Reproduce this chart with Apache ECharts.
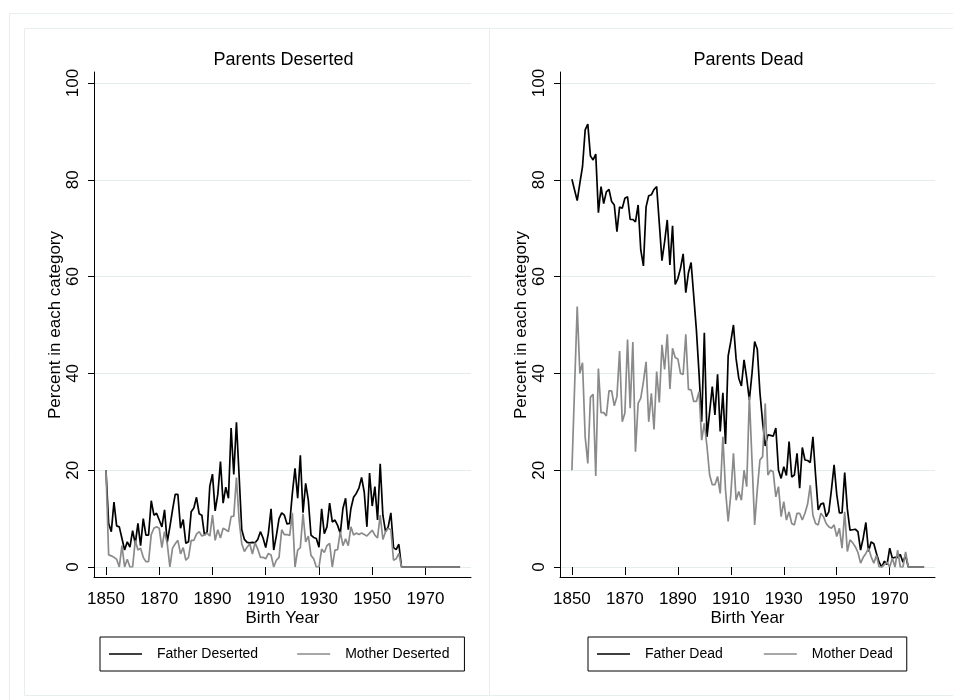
<!DOCTYPE html>
<html><head><meta charset="utf-8">
<script src="https://cdn.jsdelivr.net/npm/echarts@6/dist/echarts.min.js"></script>
<style>html,body{margin:0;padding:0;background:#fff}#c{width:953px;height:700px}</style>
</head><body><div id="c"></div>
<script>
const years = [
1850,1851,1852,1853,1854,1855,1856,1857,1858,1859,
1860,1861,1862,1863,1864,1865,1866,1867,1868,1869,
1870,1871,1872,1873,1874,1875,1876,1877,1878,1879,
1880,1881,1882,1883,1884,1885,1886,1887,1888,1889,
1890,1891,1892,1893,1894,1895,1896,1897,1898,1899,
1900,1901,1902,1903,1904,1905,1906,1907,1908,1909,
1910,1911,1912,1913,1914,1915,1916,1917,1918,1919,
1920,1921,1922,1923,1924,1925,1926,1927,1928,1929,
1930,1931,1932,1933,1934,1935,1936,1937,1938,1939,
1940,1941,1942,1943,1944,1945,1946,1947,1948,1949,
1950,1951,1952,1953,1954,1955,1956,1957,1958,1959,
1960,1961,1962,1963,1964,1965,1966,1967,1968,1969,
1970,1971,1972,1973,1974,1975,1976,1977,1978,1979,
1980,1981,1982,1983];

const fatherDeserted = [
20,9,7.3,13.4,8.5,8.3,5.9,3.5,5.2,4.1,
7.5,4.8,9.0,4.4,10.0,6.6,6.6,13.7,10.7,11.1,
9.7,8.3,11.8,5.1,8.3,11.8,15.0,15.0,8.0,9.8,
4.9,5.2,11.4,12.2,14.4,11.0,10.7,6.6,7.3,16.7,
19.2,11.6,15.0,21.8,13.2,16.5,14.2,28.7,19.1,29.9,
18.9,7.7,5.7,5.1,5.0,5.1,5.0,5.7,7.3,6.0,
4.0,7.0,12.0,3.5,6.5,10.0,11.2,10.7,8.9,9.0,
15.2,20.4,14.2,23.1,11.2,17.3,13.8,6.6,6.1,5.9,
4.1,12.0,6.9,8.3,13.2,9.3,9.7,8.6,6.9,12.1,
14.2,7.7,12.1,14.4,15.2,16.3,18.5,15.5,8.3,19.4,
12.6,16.6,9.7,21.3,10.7,7.3,8.3,11.2,4.0,3.6,
4.7,0,0,0,0,0,0,0,0,0,
0,0,0,0,0,0,0,0,0,0,
0,0,0,0];

const motherDeserted = [
20,2.5,2.3,2.0,1.6,0,4.4,0,1.6,0,
0,5.5,3.5,3.9,2.0,1.1,1.1,6.7,8.0,8.3,
8.0,4.0,7.3,4.9,0,3.9,4.8,5.5,2.7,4.0,
1.4,2.0,5.5,5.5,6.8,7.3,6.4,6.6,7.0,6.4,
10.7,5.5,7.7,6.0,8.0,7.7,7.3,10.4,10.5,18.5,
9.7,4.8,3.2,4.1,4.8,2.7,5.0,3.7,2.0,2.0,
1.7,2.8,2.5,0,1.4,2.0,7.7,6.7,6.7,6.5,
11.2,0,3.5,4.0,11.0,5.2,6.4,2.4,1.7,0,
0,3.7,3.0,4.4,4.9,0,3.5,3.6,7.3,4.4,
5.8,4.4,8.3,6.6,7.0,6.7,7.0,6.7,6.4,7.0,
7.6,6.6,6.0,10.7,5.7,7.3,8.0,7.7,1.4,1.7,
2.8,0,0,0,0,0,0,0,0,0,
0,0,0,0,0,0,0,0,0,0,
0,0,0,0];

const fatherDead = [
80.1,77.9,75.7,79.3,82.7,90.3,91.5,84.9,84.1,85.3,
73.2,78.6,75.1,77.5,78.0,75.5,74.8,69.3,74.4,74.1,
76.2,76.5,71.8,71.8,71.3,74.8,65.5,62.2,74.4,76.7,
76.9,78.0,78.6,71.0,63.3,67.2,71.7,62.4,70.5,58.4,
59.6,61.7,64.7,56.7,60.8,62.9,56,49,40,30,
48.4,26.9,32,37.3,31.4,39.8,28,36,25.4,43.6,
46.6,50,43,39,37.4,42.8,39,34.5,40,46.6,
45,36,30,25,27.3,27.2,27,28.7,20,18.3,
20.7,18.9,25.9,18.6,19,23.5,16.3,24.7,22.1,22,
21.6,26.9,19,11.8,13,13.2,10.4,11.4,16,21.1,
15,11.2,11.2,19.5,12,7.6,7.7,7.8,7.3,3.5,
6,9.2,3.2,5.2,4.8,2.8,1,0,1.2,0.5,
3.9,1.8,2,2,2.6,1,2.4,0,0,0,
0,0,0,0];

const motherDead = [
20,37,53.8,40,42.2,26.9,21.4,35.1,35.7,18.8,
41,31.9,31.9,31.2,36.4,36.4,33.3,35.2,44.6,30,
31.8,47,32.8,46.5,23.8,33.8,34.9,38.3,42.4,30,
35.9,28.4,40.4,34,45.9,40.8,48.1,36.8,45.2,43.3,
43,40,39.8,48.1,36.7,36.6,34.2,34.2,36.2,26.2,
29.7,24.9,19,17,17,18.7,15.2,26.9,15.9,9.4,
15,23.5,13.8,15.6,13.8,20,16.6,35.2,22,8.7,
16,22.1,22.8,33.8,19,20,19.7,14.5,16.6,10.4,
13.5,9.7,11.4,9,8.7,11.1,11.1,9.7,11.1,13,
16.9,10.7,9,8.7,11.1,10.4,9,8.3,8,8.7,
6.3,8,3.9,11.4,3.2,5.6,5,4.2,3,0.8,
2,2.8,3.9,2.1,0.8,2.4,0,0,0.5,1,
0,1.8,0,3.5,0,0,3.1,0,0,0,
0,0,0,0];

const xTicks = [1850,1870,1890,1910,1930,1950,1970];
const panelTitles = ['Parents Deserted', 'Parents Dead'];
const seriesNames = [['Father Deserted','Mother Deserted'], ['Father Dead','Mother Dead']];
const panelData = [[fatherDeserted, motherDeserted], [fatherDead, motherDead]];
const yTitle = 'Percent in each category';
const xTitle = 'Birth Year';

const FONT = '"Liberation Sans", Arial, Helvetica, sans-serif';
const lineColors = ['#000000', '#8a8a8a'];
const gridColor = '#e3eded';
const frameColor = '#e6eeef';
const panels = [
  {left: 94, width: 377, titleX: 278.5, legendLeft: 100, legendPad: [10, 15, 10, 9], legendGap: 39},
  {left: 560, width: 375, titleX: 743.5, legendLeft: 588, legendPad: [10, 14, 10, 9], legendGap: 41}
];

const grid = [], xAxis = [], yAxis = [], series = [], legend = [], title = [];
panels.forEach((p, i) => {
  const ga = grid.length;
  grid.push({left: p.left, width: p.width, top: 83, height: 484});
  grid.push({left: p.left, width: p.width, top: 72, height: 505});
  xAxis.push({
    type: 'value', gridIndex: ga, min: 1845.5, max: 1987.1, offset: 10,
    axisLine: {show: false},
    axisTick: {show: true, customValues: xTicks, length: 8, lineStyle: {color: '#000', width: 1}},
    axisLabel: {customValues: xTicks, formatter: v => String(v), color: '#000', fontSize: 17, fontFamily: FONT, margin: 14},
    splitLine: {show: false},
    name: xTitle, nameLocation: 'middle', nameGap: 33, nameMoveOverlap: false,
    nameTextStyle: {color: '#000', fontSize: 17, fontFamily: FONT}
  });
  xAxis.push({
    type: 'value', gridIndex: ga + 1, min: 0, max: 1,
    axisLine: {show: true, lineStyle: {color: '#000', width: 1}},
    axisTick: {show: false}, axisLabel: {show: false}, splitLine: {show: false}
  });
  yAxis.push({
    type: 'value', gridIndex: ga, min: 0, max: 100, interval: 20,
    axisLine: {show: false},
    axisTick: {show: true, length: 6, lineStyle: {color: '#000', width: 1}},
    axisLabel: {rotate: 90, color: '#000', fontSize: 17, fontFamily: FONT, margin: 12},
    splitLine: {show: true, lineStyle: {color: gridColor, width: 1}},
    name: yTitle, nameLocation: 'middle', nameGap: 30, nameMoveOverlap: false,
    nameTextStyle: {color: '#000', fontSize: 17, fontFamily: FONT}
  });
  yAxis.push({
    type: 'value', gridIndex: ga + 1, min: 0, max: 1,
    axisLine: {show: true, lineStyle: {color: '#000', width: 1}},
    axisTick: {show: false}, axisLabel: {show: false}, splitLine: {show: false}
  });
  seriesNames[i].forEach((nm, k) => {
    const vals = panelData[i][k];
    series.push({
      type: 'line', name: nm, xAxisIndex: ga, yAxisIndex: ga,
      data: years.map((y, j) => [y, vals[j]]),
      symbol: 'none', showSymbol: false,
      lineStyle: {color: lineColors[k], width: 1.7},
      itemStyle: {color: lineColors[k]},
      z: 3 + k
    });
  });
  legend.push({
    data: seriesNames[i].map(n => ({name: n, icon: 'rect'})),
    left: p.legendLeft, top: 637, orient: 'horizontal',
    itemWidth: 33, itemHeight: 1.7, itemGap: p.legendGap,
    padding: p.legendPad, borderColor: '#000', borderWidth: 1, borderRadius: 0,
    selectedMode: false,
    textStyle: {color: '#000', fontSize: 14, fontFamily: FONT, padding: [0, 0, 0, 10], lineHeight: 14}
  });
  title.push({
    text: panelTitles[i], left: p.titleX, top: 46, textAlign: 'center',
    textStyle: {color: '#000', fontSize: 18, fontWeight: 'normal', fontFamily: FONT}
  });
});

const chart = echarts.init(document.getElementById('c'), null, {renderer: 'canvas'});
chart.setOption({
  animation: false,
  backgroundColor: '#fff',
  graphic: [
    {type: 'rect', shape: {x: 9.5, y: 13.5, width: 960, height: 700}, style: {fill: 'none', stroke: frameColor, lineWidth: 1}, silent: true, z: -10},
    {type: 'rect', shape: {x: 24.5, y: 28.5, width: 940, height: 667}, style: {fill: 'none', stroke: frameColor, lineWidth: 1}, silent: true, z: -10},
    {type: 'line', shape: {x1: 489.5, y1: 28.5, x2: 489.5, y2: 695.5}, style: {stroke: frameColor, lineWidth: 1}, silent: true, z: -10}
  ],
  title, grid, xAxis, yAxis, series, legend
});
</script></body></html>
